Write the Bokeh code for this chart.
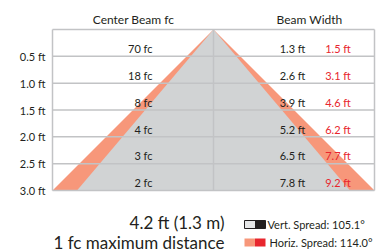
from bokeh.plotting import figure
from bokeh.models import Range1d
from bokeh.core.properties import value
from bokeh.embed import file_html
from bokeh.resources import INLINE

# ---- data ----
distances = [0.5, 1.0, 1.5, 2.0, 2.5, 3.0]
dist_labels = ["0.5 ft", "1.0 ft", "1.5 ft", "2.0 ft", "2.5 ft", "3.0 ft"]
center_fc = ["70 fc", "18 fc", "8 fc", "4 fc", "3 fc", "2 fc"]
vert_width = [1.3, 2.6, 3.9, 5.2, 6.5, 7.8]
horiz_width = [1.5, 3.1, 4.6, 6.2, 7.7, 9.2]
vert_labels = ["%.1f ft" % v for v in vert_width]
horiz_labels = ["%.1f ft" % v for v in horiz_width]
legend_labels = ["Vert. Spread: 105.1\u00b0", "Horiz. Spread: 114.0\u00b0"]
max_line1 = "4.2 ft (1.3 m)"
max_line2 = "1 fc maximum distance"

# ---- layout helpers (pixels -> data units) ----
W, H = 380, 252
CX, SX = 213.0, 35.0
CY, SY = 29.0, 53.67
def X(px):
    return (px - CX) / SX
def Y(py):
    return (py - CY) / SY

FONT = value("Lato")
DARK = "#231f20"
RED = "#e8262e"
GRAY = "#d1d3d4"
ORANGE = "#f7977a"
LINE = "#c2c3c5"

p = figure(width=W, height=H, output_backend="svg", toolbar_location=None,
           x_range=Range1d(X(0), X(W)), y_range=Range1d(Y(H), Y(0)),
           min_border=0, outline_line_color=None)
p.axis.visible = False
p.grid.visible = False
p.background_fill_color = "white"

half_h = horiz_width[-1] / 2
half_v = vert_width[-1] / 2
depth = distances[-1]

# beams
p.patch([0, -half_h, half_h], [0, depth, depth], fill_color=ORANGE, line_color=None)
p.patch([0, -half_v, half_v], [0, depth, depth], fill_color=GRAY, line_color=None)

# grid / frame lines
p.segment(x0=[-half_h] * len(distances), x1=[half_h] * len(distances),
          y0=distances, y1=distances, line_color=LINE, line_width=1.5)
p.segment(x0=[-half_h, half_h, 0, -half_h], x1=[-half_h, half_h, 0, half_h],
          y0=[0, 0, 0, 0], y1=[depth, depth, depth, 0], line_color=LINE, line_width=1.5)

# y labels
p.text(x=[X(45)] * len(distances), y=distances, text=dist_labels, text_font=FONT,
       text_font_size="11px", text_align="right", text_baseline="middle", text_color=DARK)

# headers
p.text(x=[X(133), X(309)], y=[Y(19), Y(19)], text=["Center Beam fc", "Beam Width"],
       text_font=FONT, text_font_size="12px", text_align="center", text_baseline="middle",
       text_color=DARK)

band_y = [d - 0.146 for d in distances]
p.text(x=[X(152)] * len(distances), y=band_y, text=center_fc, text_font=FONT,
       text_font_size="11px", text_align="right", text_baseline="middle", text_color=DARK)
p.text(x=[X(292)] * len(distances), y=band_y, text=vert_labels, text_font=FONT,
       text_font_size="11px", text_align="center", text_baseline="middle", text_color=DARK)
p.text(x=[X(337.5)] * len(distances), y=band_y, text=horiz_labels, text_font=FONT,
       text_font_size="11px", text_align="center", text_baseline="middle", text_color=RED)

# max distance text
p.text(x=[X(224), X(224)], y=[Y(222), Y(241.5)], text=[max_line1, max_line2], text_font=FONT,
       text_font_size="17px", text_align="right", text_baseline="middle", text_color=DARK)

# legend swatches
rows_top = [220, 238]
rows_bot = [228, 246]
p.quad(left=[X(244), X(244)], right=[X(254.5), X(254.5)],
       top=[Y(t) for t in rows_top], bottom=[Y(b) for b in rows_bot],
       fill_color=["#e6e7e8", ORANGE], line_color=None)
p.quad(left=[X(254.5), X(254.5)], right=[X(265), X(265)],
       top=[Y(t) for t in rows_top], bottom=[Y(b) for b in rows_bot],
       fill_color=[DARK, RED], line_color=None)
p.quad(left=[X(244)], right=[X(265)], top=[Y(rows_top[0])], bottom=[Y(rows_bot[0])],
       fill_color=None, line_color=DARK, line_width=1)
p.text(x=[X(267), X(269)], y=[Y((rows_top[0] + rows_bot[0]) / 2), Y((rows_top[1] + rows_bot[1]) / 2)],
       text=legend_labels, text_font=FONT, text_font_size="11px", text_align="left",
       text_baseline="middle", text_color=DARK)

open("out.html", "w").write(file_html(p, INLINE))
